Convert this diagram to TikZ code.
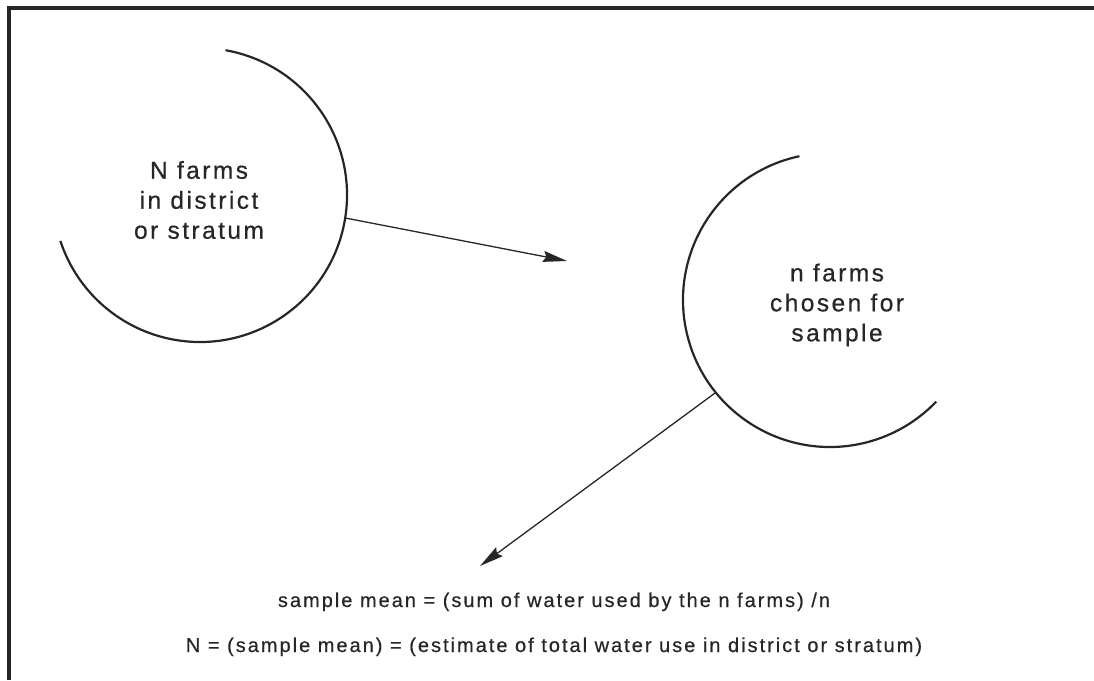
\documentclass[tikz,border=0pt]{standalone}
\usepackage{fontspec}
\setmainfont{Liberation Sans}[LetterSpace=10,FakeBold=0.5]
\usetikzlibrary{arrows.meta}

\begin{document}
\begin{tikzpicture}[x=1pt,y=1pt,
    group/.style={circle,minimum size=294pt,inner sep=0pt,outer sep=0pt},
    rim/.style={line width=2.2pt,black!85},
    link/.style={line width=1.3pt,black!85,-{Stealth[length=24pt,width=11pt,inset=3pt]}},
    bigtext/.style={font=\fontsize{24.5}{30}\selectfont,text=black!85,align=center},
    eqtext/.style={font=\fontsize{20}{24}\selectfont,text=black!85,anchor=base}]
  \useasboundingbox (0,0) rectangle (1094,680);
  \draw[line width=3.5pt,black!85] (9,0) -- (9,672) -- (1094,672);
  % the population and the sample
  \node[group] (popN) at (200,485) {};
  \node[group] (samplen) at (830,380) {};
  \draw[rim] (popN.80) arc[start angle=80,end angle=-161.8,radius=147];
  \draw[rim] (samplen.102) arc[start angle=102,end angle=316.3,radius=147];
  \node[bigtext] (popNtext) at (199,480) {N farms\\in district\\or stratum};
  \node[bigtext] (samplentext) at (837,375) {n farms\\chosen for\\sample};
  % arrows
  \coordinate (tipA) at (567,419);
  \coordinate (tipB) at (480,114);
  \draw[link] (popN.-9.4) -- (tipA);
  \draw[link] (samplen.219.8) -- (tipB);
  % formulas
  \node[eqtext] (meanline) at (554,73) {sample mean = (sum of water used by the n farms) /n};
  \node[eqtext] (totalline) at (554,28) {N = (sample mean) = (estimate of total water use in district or stratum)};
\end{tikzpicture}
\end{document}
